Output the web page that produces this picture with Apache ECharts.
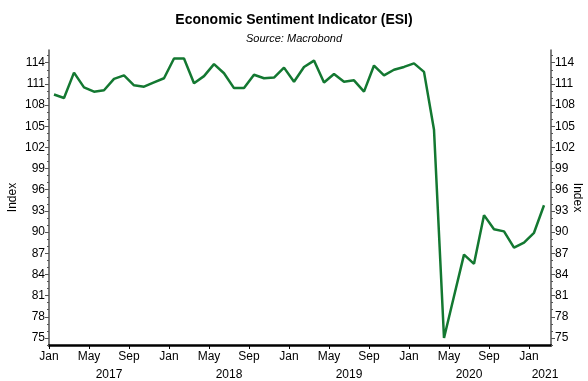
<!DOCTYPE html>
<html>
<head>
<meta charset="utf-8">
<script src="https://cdn.jsdelivr.net/npm/echarts@6/dist/echarts.min.js"></script>
<style>
  html, body { margin: 0; padding: 0; background: #fff; }
  #chart { width: 588px; height: 381px; }
</style>
</head>
<body>
<div id="chart"></div>
<script>
// Monthly ESI readings, Jan 2017 .. Feb 2021
const monthNames = ['Jan', 'Feb', 'Mar', 'Apr', 'May', 'Jun', 'Jul', 'Aug', 'Sep', 'Oct', 'Nov', 'Dec'];
const years = ['2017', '2018', '2019', '2020', '2021'];
const esi = [
  109.5, 109.0, 112.6, 110.5, 109.9, 110.1, 111.7, 112.2, 110.8, 110.6, 111.2, 111.8,
  114.6, 114.6, 111.1, 112.1, 113.8, 112.5, 110.4, 110.4, 112.3, 111.8, 111.9, 113.3,
  111.3, 113.4, 114.3, 111.2, 112.4, 111.3, 111.5, 109.9, 113.6, 112.2, 113.0, 113.4,
  113.9, 112.7, 104.5, 75.0, 80.9, 86.8, 85.5, 92.4, 90.4, 90.1, 87.8, 88.5,
  89.9, 93.8
];
const yTicks = [75, 78, 81, 84, 87, 90, 93, 96, 99, 102, 105, 108, 111, 114];
const yMin = 74, yMax = 115.8;

const majorY = yTicks;
const minorY = [];
for (let v = 74; v <= 115; v++) if (!yTicks.includes(v)) minorY.push(v);

// x axis measured in months from Jan 2017; each reading sits mid-month
const xMax = 50.2;
const monthTicks = [];
for (let m = 0; m <= 48; m += 4) monthTicks.push(m);
const yearCentres = [6, 18, 30, 42, 49.6];

const font = 'Liberation Sans, Arial, sans-serif';
const green = '#137831';

function yAxisDef(side, values, len, labels, name) {
  return {
    type: 'value', position: side, min: yMin, max: yMax,
    splitLine: { show: false },
    axisLine: { show: labels, onZero: false, lineStyle: { color: '#555', width: 1.5 } },
    axisTick: { show: true, customValues: values, length: len, lineStyle: { color: '#555', width: 1 } },
    axisLabel: labels ? {
      show: true, customValues: values, margin: 4, fontSize: 12, color: '#000', fontFamily: font
    } : { show: false },
    name: name || '',
    nameLocation: 'middle',
    nameGap: side === 'left' ? 30 : 20,
    nameRotate: side === 'left' ? 90 : -90,
    nameMoveOverlap: false,
    nameTextStyle: { fontSize: 12, color: '#000', fontFamily: font }
  };
}

const chart = echarts.init(document.getElementById('chart'), null, { renderer: 'canvas' });
chart.setOption({
  animation: false,
  backgroundColor: '#fff',
  title: [
    { text: 'Economic Sentiment Indicator (ESI)', left: 'center', top: 8,
      textStyle: { fontSize: 14, fontWeight: 'bold', color: '#000', fontFamily: font } },
    { text: 'Source: Macrobond', left: 'center', top: 28,
      textStyle: { fontSize: 11, fontStyle: 'italic', fontWeight: 'normal', color: '#000', fontFamily: font } }
  ],
  grid: { left: 49, right: 37, top: 50, bottom: 36, containLabel: false, outerBoundsMode: 'none' },
  xAxis: [
    {
      type: 'value', position: 'bottom', min: 0, max: xMax,
      splitLine: { show: false },
      axisLine: { show: true, onZero: false, lineStyle: { color: '#000', width: 2.5 } },
      axisTick: { show: true, customValues: monthTicks, length: 4, lineStyle: { color: '#000', width: 1 } },
      axisLabel: {
        customValues: monthTicks, margin: 6, fontSize: 12, color: '#000', fontFamily: font,
        formatter: v => monthNames[Math.round(v) % 12]
      }
    },
    {
      type: 'value', position: 'bottom', min: 0, max: xMax, offset: 18,
      splitLine: { show: false },
      axisLine: { show: false },
      axisTick: { show: false },
      axisLabel: {
        customValues: yearCentres, margin: 6, fontSize: 12, color: '#000', fontFamily: font,
        formatter: v => years[Math.floor(v / 12)]
      }
    }
  ],
  yAxis: [
    yAxisDef('left', majorY, 4, true, 'Index'),
    yAxisDef('left', minorY, 2, false),
    yAxisDef('right', majorY, 4, true, 'Index'),
    yAxisDef('right', minorY, 2, false)
  ],
  series: [{
    type: 'line',
    xAxisIndex: 0, yAxisIndex: 0,
    data: esi.map((v, i) => [i + 0.5, v]),
    showSymbol: false,
    lineStyle: { color: green, width: 2.5 },
    itemStyle: { color: green }
  }]
});
</script>
</body>
</html>
